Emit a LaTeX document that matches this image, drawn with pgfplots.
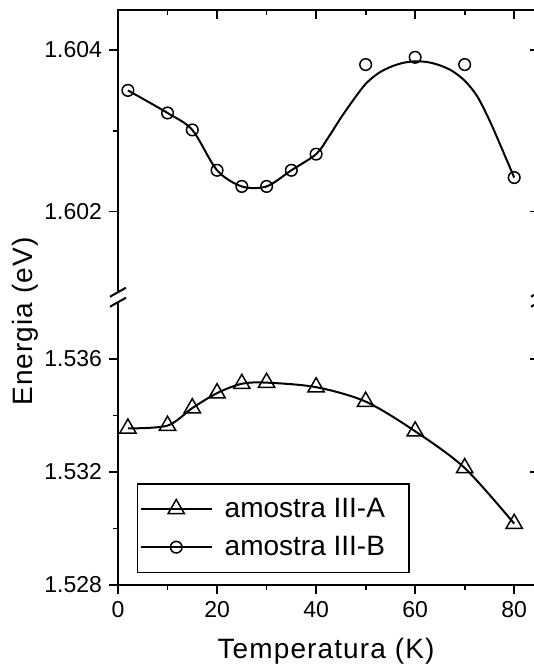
\documentclass[border=0pt]{standalone}
\usepackage{fontspec}
\setmainfont{Liberation Sans}
\newfontfamily\lsfont[LetterSpace=4]{Liberation Sans}
\newcommand\tickfont{\fontsize{11.5}{13}\selectfont}
\usepackage{pgfplots}
\pgfplotsset{compat=1.18}
\begin{document}
\begin{tikzpicture}
\useasboundingbox (-59pt,-40.5pt) rectangle (208pt,292.5pt);
\pgfplotsset{
  common/.style={scale only axis, width=210.5pt, xmin=0, xmax=85,
    anchor=south west,
    axis line style={draw=none},
    /pgf/number format/assume math mode=true,
    every tick label/.append style={font=\tickfont},
    major tick length=4.5pt, minor tick length=2.5pt,
    every tick/.style={black, line width=0.9pt},
    scaled y ticks=false, scaled x ticks=false},
  ylab/.style={yticklabel style={font=\tickfont, /pgf/number format/.cd, fixed, fixed zerofill, precision=3}},
}
% ---------- upper panel ----------
\begin{axis}[common, ylab, at={(0pt,144pt)}, height=143.5pt,
  ymin=1.60094, ymax=1.604496,
  ytick={1.602,1.604}, minor ytick={1.603}, ytick pos=left, tick align=outside,
  xtick=\empty]
\addplot[line width=1pt, smooth] coordinates {
(2,1.60350) (10,1.60322) (15,1.60301) (20,1.60251) (25,1.60231) (30,1.60231)
(35,1.60251) (40,1.60271) (42.5,1.60292) (45,1.60316) (47.5,1.60338) (50,1.60358)
(52.5,1.60371) (55,1.60379) (57.5,1.60384) (60,1.60386) (62.5,1.60385) (65,1.60381)
(67.5,1.60374) (70,1.60362) (72.5,1.60343) (75,1.60313) (77.5,1.60278) (80,1.60242)};
\addplot[only marks, mark=o, mark size=2.9pt, mark options={fill=white, line width=0.75pt}] coordinates {
(2,1.60350) (10,1.60322) (15,1.60301) (20,1.60251) (25,1.60231) (30,1.60231)
(35,1.60251) (40,1.60271) (50,1.60382) (60,1.60391) (70,1.60382) (80,1.60242)};
\end{axis}
\begin{axis}[common, at={(0pt,144pt)}, height=143.5pt,
  ymin=1.60094, ymax=1.604496,
  ytick={1.602,1.604}, minor ytick={1.603}, ytick pos=right,
  xtick={0,20,40,60,80}, minor xtick={10,30,50,70}, xtick pos=right,
  tick align=inside, xticklabels={}, yticklabels={}]
\end{axis}
% ---------- lower panel ----------
\begin{axis}[common, ylab, at={(0pt,0pt)}, height=144pt,
  ymin=1.528, ymax=1.53819,
  ytick={1.528,1.532,1.536}, minor ytick={1.530,1.534}, ytick pos=left,
  xtick={0,20,40,60,80}, minor xtick={10,30,50,70}, xtick pos=left,
  xticklabel style={font=\tickfont},
  tick align=outside,
  legend style={at={(rel axis cs:0.0451,0.354)}, anchor=north west,
    draw=black, line width=0.75pt, inner xsep=1pt, inner ysep=5pt,
    row sep=4pt, nodes={inner xsep=0pt, inner ysep=2pt},
    /tikz/every even column/.style={column sep=0pt},
    font=\fontsize{14}{16}\selectfont, cells={anchor=west}},
  legend image code/.code={\draw[mark repeat=2,mark phase=2] plot coordinates {(0pt,0pt)(17.75pt,0pt)(35.5pt,0pt)};}]
\addplot[line width=1pt, smooth, mark=triangle, mark size=4.7pt, mark options={fill=white, line width=0.75pt}] coordinates {
(2,1.53354) (10,1.53364) (15,1.53426) (20,1.53479) (25,1.53512) (30,1.53516)
(40,1.53500) (50,1.53449) (60,1.53344) (70,1.53214) (80,1.53017)};
\addlegendentry{\hspace*{6pt}amostra III-A\hspace*{11pt}}
\addlegendimage{line width=1pt, mark=o, mark size=2.9pt, mark options={fill=white, line width=0.75pt}}
\addlegendentry{\hspace*{6pt}amostra III-B\hspace*{11pt}}
\end{axis}
\begin{axis}[common, at={(0pt,0pt)}, height=144pt,
  ymin=1.528, ymax=1.53819,
  ytick={1.528,1.532,1.536}, minor ytick={1.530,1.534}, ytick pos=right,
  xtick=\empty, tick align=inside, yticklabels={}]
\end{axis}
% ---------- axis lines and break marks ----------
\draw[line width=1pt] (0,141.4pt) -- (0,0) -- (210.5pt,0) -- (210.5pt,141.4pt);
\draw[line width=1pt] (0,146.4pt) -- (0,287.5pt) -- (210.5pt,287.5pt) -- (210.5pt,146.4pt);
\foreach \xx in {0pt,210.5pt}{
  \draw[line width=1pt] ([shift={(-4pt,-2.25pt)}]\xx,146.4pt) -- ([shift={(4pt,2.25pt)}]\xx,146.4pt);
  \draw[line width=1pt] ([shift={(-4pt,-2.25pt)}]\xx,141.4pt) -- ([shift={(4pt,2.25pt)}]\xx,141.4pt);
}
\node[rotate=90, anchor=base, inner sep=0pt, font=\lsfont\fontsize{14}{16}\selectfont] at (-42.5pt,131.75pt) {Energia (eV)};
\node[anchor=base, inner sep=0pt, font=\lsfont\fontsize{14}{16}\selectfont] at (104pt,-36.5pt) {Temperatura (K)};
\end{tikzpicture}
\end{document}
